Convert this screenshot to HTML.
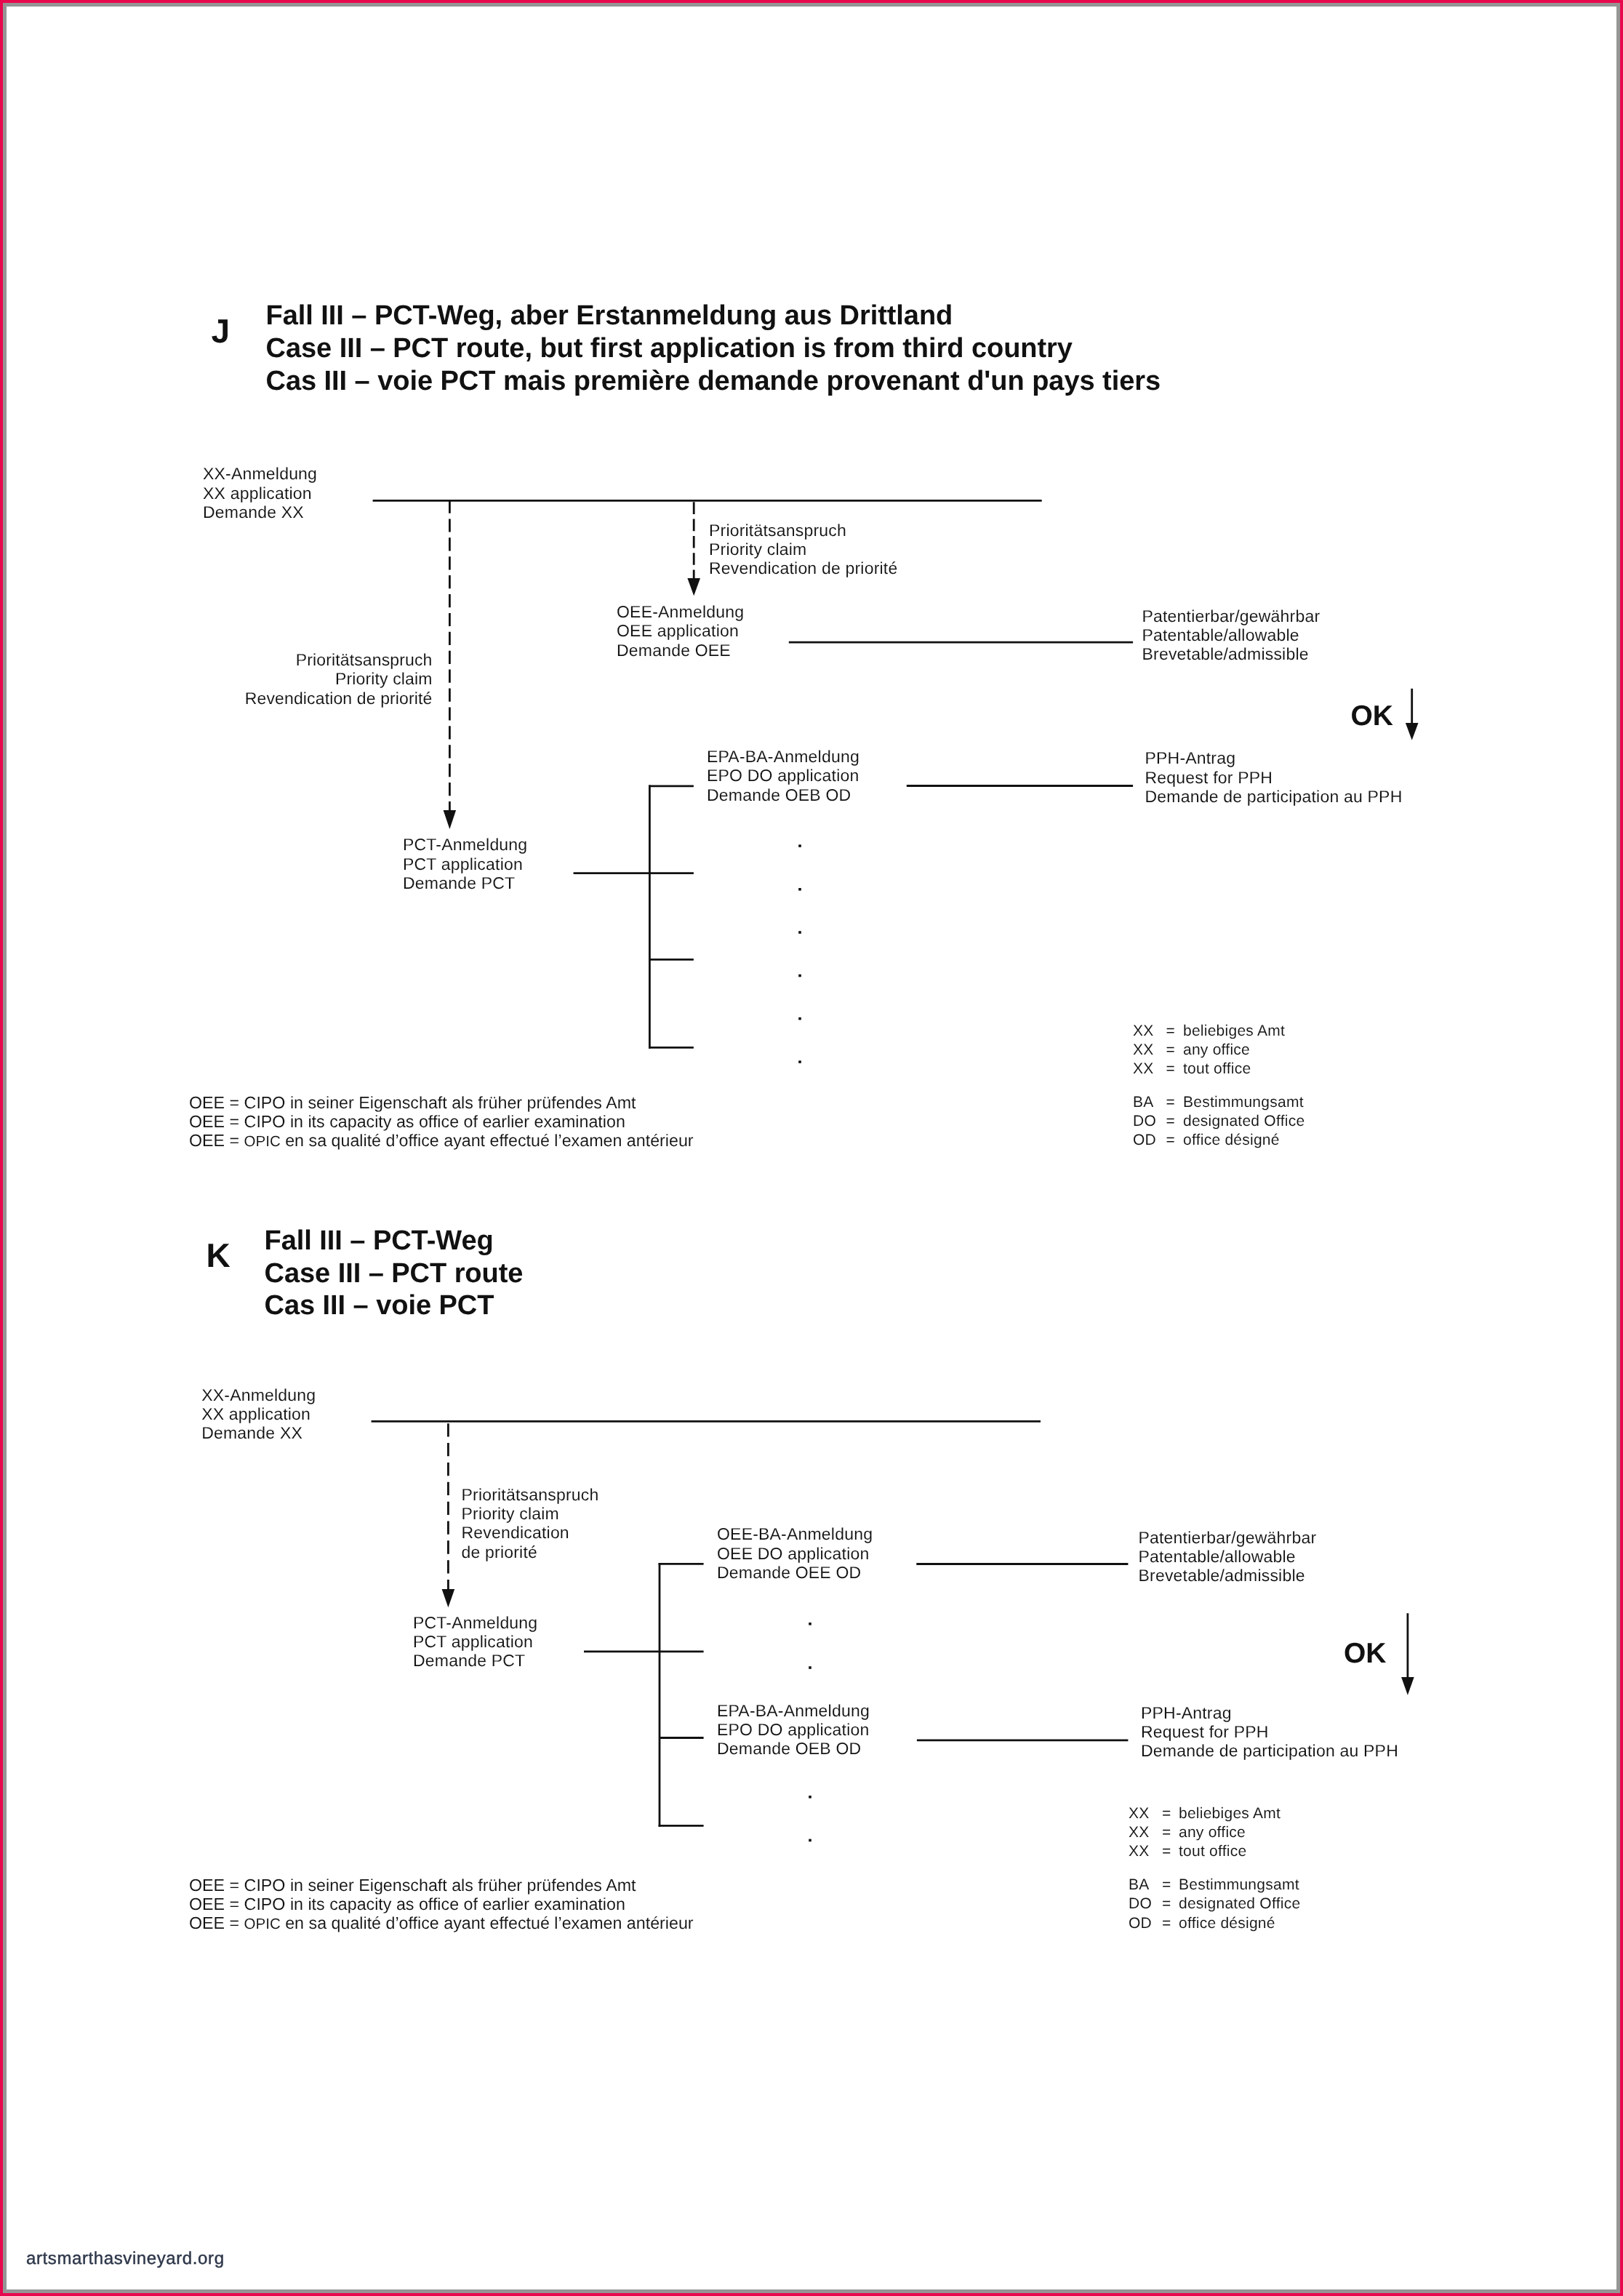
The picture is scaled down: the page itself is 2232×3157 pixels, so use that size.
<!DOCTYPE html>
<html><head><meta charset="utf-8"><style>
html,body{margin:0;padding:0;}
body{width:2232px;height:3157px;position:relative;overflow:hidden;background:#fff;font-family:"Liberation Sans",sans-serif;color:#111;}
.frame{position:absolute;left:0;top:0;width:2232px;height:3157px;box-sizing:border-box;border:4px solid #e8084e;}
.frame2{position:absolute;left:4px;top:4px;width:2224px;height:3149px;box-sizing:border-box;border:5px solid #959595;}
.tl{position:absolute;left:0;top:0;width:2232px;height:3157px;will-change:transform;text-rendering:geometricPrecision;}
.t{position:absolute;white-space:nowrap;-webkit-text-stroke:0.1px #fff;}
.b{-webkit-text-stroke:0;}
svg{position:absolute;left:0;top:0;}
</style></head><body>
<div class="frame"></div><div class="frame2"></div>
<svg width="2232" height="3157" viewBox="0 0 2232 3157">
<line x1="512.6" y1="688.4" x2="1432.7" y2="688.4" stroke="#111" stroke-width="2.8"/>
<line x1="618.4" y1="687.5" x2="618.4" y2="1116" stroke="#111" stroke-width="2.8" stroke-dasharray="18.2 7.7"/>
<polygon points="609.6,1114 627.1,1114 618.4,1140" fill="#111"/>
<line x1="954.2" y1="690.3" x2="954.2" y2="797" stroke="#111" stroke-width="2.8" stroke-dasharray="16.6 6.7"/>
<polygon points="945.4,795 963.0,795 954.2,819.2" fill="#111"/>
<line x1="1084.8" y1="883.1" x2="1558.1" y2="883.1" stroke="#111" stroke-width="2.8"/>
<line x1="1941.7" y1="946.8" x2="1941.7" y2="996" stroke="#111" stroke-width="2.8"/>
<polygon points="1932.9,994.1 1950.5,994.1 1941.7,1017.8" fill="#111"/>
<line x1="1246.8" y1="1080.5" x2="1558.1" y2="1080.5" stroke="#111" stroke-width="2.8"/>
<line x1="893.4" y1="1079.4" x2="893.4" y2="1441.8" stroke="#111" stroke-width="2.8"/>
<line x1="892" y1="1080.8" x2="953.9" y2="1080.8" stroke="#111" stroke-width="2.8"/>
<line x1="788.6" y1="1200.6" x2="953.9" y2="1200.6" stroke="#111" stroke-width="2.8"/>
<line x1="893.4" y1="1319.3" x2="953.9" y2="1319.3" stroke="#111" stroke-width="2.8"/>
<line x1="892" y1="1440.4" x2="953.9" y2="1440.4" stroke="#111" stroke-width="2.8"/>
<rect x="1098.2" y="1161.3" width="3.6" height="3.6" fill="#111"/>
<rect x="1098.2" y="1221.0" width="3.6" height="3.6" fill="#111"/>
<rect x="1098.2" y="1280.2" width="3.6" height="3.6" fill="#111"/>
<rect x="1098.2" y="1339.7" width="3.6" height="3.6" fill="#111"/>
<rect x="1098.2" y="1398.8" width="3.6" height="3.6" fill="#111"/>
<rect x="1098.2" y="1458.3" width="3.6" height="3.6" fill="#111"/>
<line x1="510.6" y1="1954.4" x2="1431" y2="1954.4" stroke="#111" stroke-width="2.8"/>
<line x1="616.4" y1="1957.2" x2="616.4" y2="2187" stroke="#111" stroke-width="2.8" stroke-dasharray="18.3 8.56"/>
<polygon points="607.6,2185 625.2,2185 616.4,2210.2" fill="#111"/>
<line x1="907" y1="2149" x2="907" y2="2511.8" stroke="#111" stroke-width="2.8"/>
<line x1="905.6" y1="2150.4" x2="967.6" y2="2150.4" stroke="#111" stroke-width="2.8"/>
<line x1="803" y1="2270.8" x2="967.6" y2="2270.8" stroke="#111" stroke-width="2.8"/>
<line x1="907" y1="2389.5" x2="967.6" y2="2389.5" stroke="#111" stroke-width="2.8"/>
<line x1="905.6" y1="2510.4" x2="967.6" y2="2510.4" stroke="#111" stroke-width="2.8"/>
<rect x="1112.2" y="2231.0" width="3.6" height="3.6" fill="#111"/>
<rect x="1112.2" y="2291.2" width="3.6" height="3.6" fill="#111"/>
<rect x="1112.2" y="2469.0" width="3.6" height="3.6" fill="#111"/>
<rect x="1112.2" y="2528.6" width="3.6" height="3.6" fill="#111"/>
<line x1="1260.3" y1="2150.5" x2="1551.4" y2="2150.5" stroke="#111" stroke-width="2.8"/>
<line x1="1935.9" y1="2218.2" x2="1935.9" y2="2308" stroke="#111" stroke-width="2.8"/>
<polygon points="1927.1,2306 1944.7,2306 1935.9,2330.7" fill="#111"/>
<line x1="1260.9" y1="2392.8" x2="1551.4" y2="2392.8" stroke="#111" stroke-width="2.8"/>
</svg>
<div class="tl">
<div class="t b" style="left:290.5px;top:430.1px;font-size:46px;line-height:50px;letter-spacing:0px;font-weight:700;">J</div>
<div class="t b" style="left:365.5px;top:412.1px;font-size:38px;line-height:45px;letter-spacing:-0.05px;font-weight:700;">Fall III – PCT-Weg, aber Erstanmeldung aus Drittland<br>Case III – PCT route, but first application is from third country<br>Cas III – voie PCT mais première demande provenant d'un pays tiers</div>
<div class="t" style="left:279.0px;top:638.4px;font-size:23px;line-height:26.2px;letter-spacing:0.2px;font-weight:400;">XX-Anmeldung<br>XX application<br>Demande XX</div>
<div class="t" style="left:975.0px;top:715.8px;font-size:23px;line-height:26.2px;letter-spacing:0.2px;font-weight:400;">Prioritätsanspruch<br>Priority claim<br>Revendication de priorité</div>
<div class="t" style="left:848.0px;top:827.8px;font-size:23px;line-height:26.45px;letter-spacing:0.2px;font-weight:400;">OEE-Anmeldung<br>OEE application<br>Demande OEE</div>
<div class="t" style="left:1570.5px;top:833.5px;font-size:23px;line-height:26.2px;letter-spacing:0.2px;font-weight:400;">Patentierbar/gewährbar<br>Patentable/allowable<br>Brevetable/admissible</div>
<div class="t" style="right:1637.5px;text-align:right;top:893.8px;font-size:23px;line-height:26.4px;letter-spacing:0.13px;font-weight:400;">Prioritätsanspruch<br>Priority claim<br>Revendication de priorité</div>
<div class="t b" style="left:1857.5px;top:962.9px;font-size:39px;line-height:44px;letter-spacing:0px;font-weight:700;">OK</div>
<div class="t" style="left:972.0px;top:1027.1px;font-size:23px;line-height:26.2px;letter-spacing:0.2px;font-weight:400;">EPA-BA-Anmeldung<br>EPO DO application<br>Demande OEB OD</div>
<div class="t" style="left:1574.5px;top:1029.4px;font-size:23px;line-height:26.2px;letter-spacing:0.2px;font-weight:400;">PPH-Antrag<br>Request for PPH<br>Demande de participation au PPH</div>
<div class="t" style="left:554.0px;top:1148.4px;font-size:23px;line-height:26.2px;letter-spacing:0.2px;font-weight:400;">PCT-Anmeldung<br>PCT application<br>Demande PCT</div>
<div class="t" style="left:1558.0px;top:1404.7px;font-size:21px;line-height:26.2px;letter-spacing:0.25px;font-weight:400;">XX</div>
<div class="t" style="left:1603.5px;top:1404.7px;font-size:21px;line-height:26.2px;letter-spacing:0.25px;font-weight:400;">=</div>
<div class="t" style="left:1627.0px;top:1404.7px;font-size:21px;line-height:26.2px;letter-spacing:0.25px;font-weight:400;">beliebiges Amt</div>
<div class="t" style="left:1558.0px;top:1430.6px;font-size:21px;line-height:26.2px;letter-spacing:0.25px;font-weight:400;">XX</div>
<div class="t" style="left:1603.5px;top:1430.6px;font-size:21px;line-height:26.2px;letter-spacing:0.25px;font-weight:400;">=</div>
<div class="t" style="left:1627.0px;top:1430.6px;font-size:21px;line-height:26.2px;letter-spacing:0.25px;font-weight:400;">any office</div>
<div class="t" style="left:1558.0px;top:1456.8px;font-size:21px;line-height:26.2px;letter-spacing:0.25px;font-weight:400;">XX</div>
<div class="t" style="left:1603.5px;top:1456.8px;font-size:21px;line-height:26.2px;letter-spacing:0.25px;font-weight:400;">=</div>
<div class="t" style="left:1627.0px;top:1456.8px;font-size:21px;line-height:26.2px;letter-spacing:0.25px;font-weight:400;">tout office</div>
<div class="t" style="left:1558.0px;top:1503.1px;font-size:21px;line-height:26.2px;letter-spacing:0.25px;font-weight:400;">BA</div>
<div class="t" style="left:1603.5px;top:1503.1px;font-size:21px;line-height:26.2px;letter-spacing:0.25px;font-weight:400;">=</div>
<div class="t" style="left:1627.0px;top:1503.1px;font-size:21px;line-height:26.2px;letter-spacing:0.25px;font-weight:400;">Bestimmungsamt</div>
<div class="t" style="left:1558.0px;top:1529.0px;font-size:21px;line-height:26.2px;letter-spacing:0.25px;font-weight:400;">DO</div>
<div class="t" style="left:1603.5px;top:1529.0px;font-size:21px;line-height:26.2px;letter-spacing:0.25px;font-weight:400;">=</div>
<div class="t" style="left:1627.0px;top:1529.0px;font-size:21px;line-height:26.2px;letter-spacing:0.25px;font-weight:400;">designated Office</div>
<div class="t" style="left:1558.0px;top:1555.4px;font-size:21px;line-height:26.2px;letter-spacing:0.25px;font-weight:400;">OD</div>
<div class="t" style="left:1603.5px;top:1555.4px;font-size:21px;line-height:26.2px;letter-spacing:0.25px;font-weight:400;">=</div>
<div class="t" style="left:1627.0px;top:1555.4px;font-size:21px;line-height:26.2px;letter-spacing:0.25px;font-weight:400;">office désigné</div>
<div class="t" style="left:260.0px;top:1502.8px;font-size:23.25px;line-height:26.1px;letter-spacing:0px;font-weight:400;">OEE = CIPO in seiner Eigenschaft als früher prüfendes Amt<br>OEE = CIPO in its capacity as office of earlier examination<br>OEE = <span style="font-size:20.5px">OPIC</span> en sa qualité d’office ayant effectué l’examen antérieur</div>
<div class="t b" style="left:283.5px;top:1701.1px;font-size:46px;line-height:50px;letter-spacing:0px;font-weight:700;">K</div>
<div class="t b" style="left:363.5px;top:1683.8px;font-size:38px;line-height:44.8px;letter-spacing:-0.05px;font-weight:700;">Fall III – PCT-Weg<br>Case III – PCT route<br>Cas III – voie PCT</div>
<div class="t" style="left:277.2px;top:1904.8px;font-size:23px;line-height:26.2px;letter-spacing:0.2px;font-weight:400;">XX-Anmeldung<br>XX application<br>Demande XX</div>
<div class="t" style="left:634.5px;top:2041.9px;font-size:23px;line-height:26.2px;letter-spacing:0.2px;font-weight:400;">Prioritätsanspruch<br>Priority claim<br>Revendication<br>de priorité</div>
<div class="t" style="left:986.0px;top:2096.4px;font-size:23px;line-height:26.45px;letter-spacing:0.2px;font-weight:400;">OEE-BA-Anmeldung<br>OEE DO application<br>Demande OEE OD</div>
<div class="t" style="left:568.0px;top:2217.6px;font-size:23px;line-height:26.4px;letter-spacing:0.2px;font-weight:400;">PCT-Anmeldung<br>PCT application<br>Demande PCT</div>
<div class="t" style="left:986.0px;top:2338.5px;font-size:23px;line-height:26.2px;letter-spacing:0.2px;font-weight:400;">EPA-BA-Anmeldung<br>EPO DO application<br>Demande OEB OD</div>
<div class="t" style="left:1565.5px;top:2101.0px;font-size:23px;line-height:26.2px;letter-spacing:0.2px;font-weight:400;">Patentierbar/gewährbar<br>Patentable/allowable<br>Brevetable/admissible</div>
<div class="t b" style="left:1848.0px;top:2251.6px;font-size:39px;line-height:44px;letter-spacing:0px;font-weight:700;">OK</div>
<div class="t" style="left:1569.0px;top:2341.9px;font-size:23px;line-height:26.2px;letter-spacing:0.2px;font-weight:400;">PPH-Antrag<br>Request for PPH<br>Demande de participation au PPH</div>
<div class="t" style="left:1552.0px;top:2480.8px;font-size:21px;line-height:26.2px;letter-spacing:0.25px;font-weight:400;">XX</div>
<div class="t" style="left:1598.0px;top:2480.8px;font-size:21px;line-height:26.2px;letter-spacing:0.25px;font-weight:400;">=</div>
<div class="t" style="left:1621.0px;top:2480.8px;font-size:21px;line-height:26.2px;letter-spacing:0.25px;font-weight:400;">beliebiges Amt</div>
<div class="t" style="left:1552.0px;top:2506.7px;font-size:21px;line-height:26.2px;letter-spacing:0.25px;font-weight:400;">XX</div>
<div class="t" style="left:1598.0px;top:2506.7px;font-size:21px;line-height:26.2px;letter-spacing:0.25px;font-weight:400;">=</div>
<div class="t" style="left:1621.0px;top:2506.7px;font-size:21px;line-height:26.2px;letter-spacing:0.25px;font-weight:400;">any office</div>
<div class="t" style="left:1552.0px;top:2532.9px;font-size:21px;line-height:26.2px;letter-spacing:0.25px;font-weight:400;">XX</div>
<div class="t" style="left:1598.0px;top:2532.9px;font-size:21px;line-height:26.2px;letter-spacing:0.25px;font-weight:400;">=</div>
<div class="t" style="left:1621.0px;top:2532.9px;font-size:21px;line-height:26.2px;letter-spacing:0.25px;font-weight:400;">tout office</div>
<div class="t" style="left:1552.0px;top:2579.1px;font-size:21px;line-height:26.2px;letter-spacing:0.25px;font-weight:400;">BA</div>
<div class="t" style="left:1598.0px;top:2579.1px;font-size:21px;line-height:26.2px;letter-spacing:0.25px;font-weight:400;">=</div>
<div class="t" style="left:1621.0px;top:2579.1px;font-size:21px;line-height:26.2px;letter-spacing:0.25px;font-weight:400;">Bestimmungsamt</div>
<div class="t" style="left:1552.0px;top:2605.0px;font-size:21px;line-height:26.2px;letter-spacing:0.25px;font-weight:400;">DO</div>
<div class="t" style="left:1598.0px;top:2605.0px;font-size:21px;line-height:26.2px;letter-spacing:0.25px;font-weight:400;">=</div>
<div class="t" style="left:1621.0px;top:2605.0px;font-size:21px;line-height:26.2px;letter-spacing:0.25px;font-weight:400;">designated Office</div>
<div class="t" style="left:1552.0px;top:2631.7px;font-size:21px;line-height:26.2px;letter-spacing:0.25px;font-weight:400;">OD</div>
<div class="t" style="left:1598.0px;top:2631.7px;font-size:21px;line-height:26.2px;letter-spacing:0.25px;font-weight:400;">=</div>
<div class="t" style="left:1621.0px;top:2631.7px;font-size:21px;line-height:26.2px;letter-spacing:0.25px;font-weight:400;">office désigné</div>
<div class="t" style="left:260.0px;top:2578.7px;font-size:23.25px;line-height:26.1px;letter-spacing:0px;font-weight:400;">OEE = CIPO in seiner Eigenschaft als früher prüfendes Amt<br>OEE = CIPO in its capacity as office of earlier examination<br>OEE = <span style="font-size:20.5px">OPIC</span> en sa qualité d’office ayant effectué l’examen antérieur</div>
<div class="t" style="left:36.0px;top:3092.2px;font-size:24px;line-height:28px;letter-spacing:0.6px;font-weight:400;color:#2e374a;-webkit-text-stroke:0.45px #2e374a;">artsmarthasvineyard.org</div>
</div>
</body></html>
